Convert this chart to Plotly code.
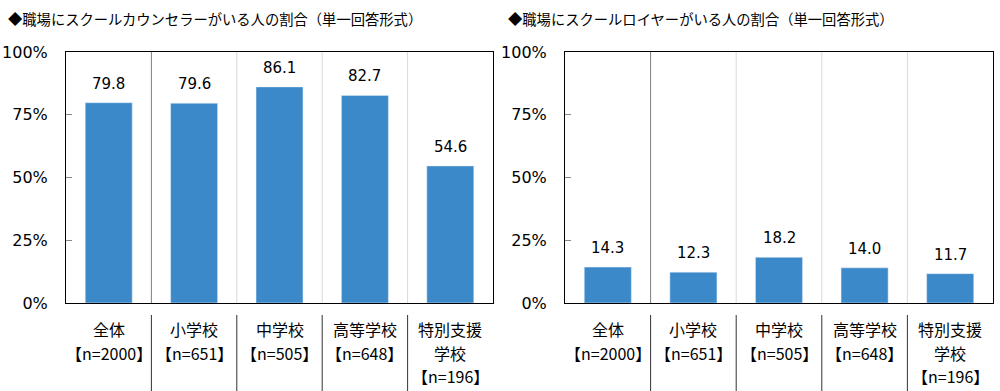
import plotly.graph_objects as go
from plotly.subplots import make_subplots

categories = ["全体", "小学校", "中学校", "高等学校", "特別支援学校"]
cat_label_lines = [["全体", "【n=2000】"], ["小学校", "【n=651】"], ["中学校", "【n=505】"],
                   ["高等学校", "【n=648】"], ["特別支援", "学校", "【n=196】"]]
counselor = [79.8, 79.6, 86.1, 82.7, 54.6]
lawyer = [14.3, 12.3, 18.2, 14.0, 11.7]
titles = ["◆職場にスクールカウンセラーがいる人の割合（単一回答形式）",
          "◆職場にスクールロイヤーがいる人の割合（単一回答形式）"]
y_ticks = [0, 25, 50, 75, 100]
y_ticktext = ["0%", "25%", "50%", "75%", "100%"]

JP = "Noto Sans CJK JP"
NUM = "DejaVu Sans"
BAR = "#3B89C9"
H = 391
ytop, ybot = 52, 303
ydom = [1 - ybot / H, 1 - ytop / H]
xdoms = [[0.066, 0.493], [0.565, 0.993]]

fig = make_subplots(rows=1, cols=2)
for i, vals in enumerate([counselor, lawyer]):
    xr = "x" if i == 0 else "x2"
    yr = "y" if i == 0 else "y2"
    fig.add_trace(go.Bar(
        x=list(range(len(categories))), y=vals, marker_color=BAR, width=0.55,
        hoverinfo="skip", showlegend=False), row=1, col=i + 1)
    for k, v in enumerate(vals):
        fig.add_annotation(x=k, y=v, xref=xr, yref=yr, text=f"{v:.1f}", showarrow=False,
                           yanchor="middle", yshift=19,
                           font=dict(size=15, color="#000", family=NUM))

for i in range(2):
    xa = "xaxis" if i == 0 else "xaxis2"
    ya = "yaxis" if i == 0 else "yaxis2"
    xr = "x" if i == 0 else "x2"
    fig.layout[xa].update(domain=xdoms[i], range=[-0.5, 4.5], showticklabels=False,
                          showline=True, linecolor="#000", linewidth=1, mirror=True,
                          showgrid=False, zeroline=False, ticks="", automargin=False)
    fig.layout[ya].update(domain=ydom, range=[0, 100], tickvals=y_ticks, ticktext=y_ticktext,
                          showline=True, linecolor="#000", linewidth=1, mirror=True,
                          showgrid=False, zeroline=False, ticks="inside", ticklen=6,
                          tickcolor="#888", automargin=False, ticklabelstandoff=14,
                          tickfont=dict(size=16, color="#000", family=NUM))
    for k in range(1, len(categories)):
        xpos = k - 0.5
        col = "#7f7f7f" if k == 1 else "#d9d9d9"
        fig.add_shape(type="line", xref=xr, yref=f"{'y' if i == 0 else 'y2'} domain",
                      x0=xpos, x1=xpos, y0=0, y1=1, line=dict(color=col, width=1))
        fig.add_shape(type="line", xref=xr, yref="paper",
                      x0=xpos, x1=xpos, y0=1 - 315 / H, y1=0, line=dict(color="#333", width=1))
    for k, lines in enumerate(cat_label_lines):
        for j, t in enumerate(lines):
            fig.add_annotation(x=k, xref=xr, y=1 - (329 + 23.5 * j) / H, yref="paper",
                               text=t, showarrow=False, yanchor="middle",
                               font=dict(size=16, color="#000", family=JP))
    fig.add_annotation(x=(8 if i == 0 else 508) / 1000, xref="paper", y=1 - 18 / H, yref="paper",
                       text=titles[i], showarrow=False, xanchor="left", yanchor="middle",
                       xshift=-2, font=dict(size=14.3, color="#000", family=JP))

fig.update_layout(width=1000, height=H, margin=dict(l=0, r=0, t=0, b=0, autoexpand=False),
                  paper_bgcolor="#fff", plot_bgcolor="#fff",
                  font=dict(family=JP, color="#000"))
fig.write_html("out.html", config={"displayModeBar": False, "staticPlot": True},
               post_script="document.body.style.margin='0';document.body.style.overflow='hidden';")
